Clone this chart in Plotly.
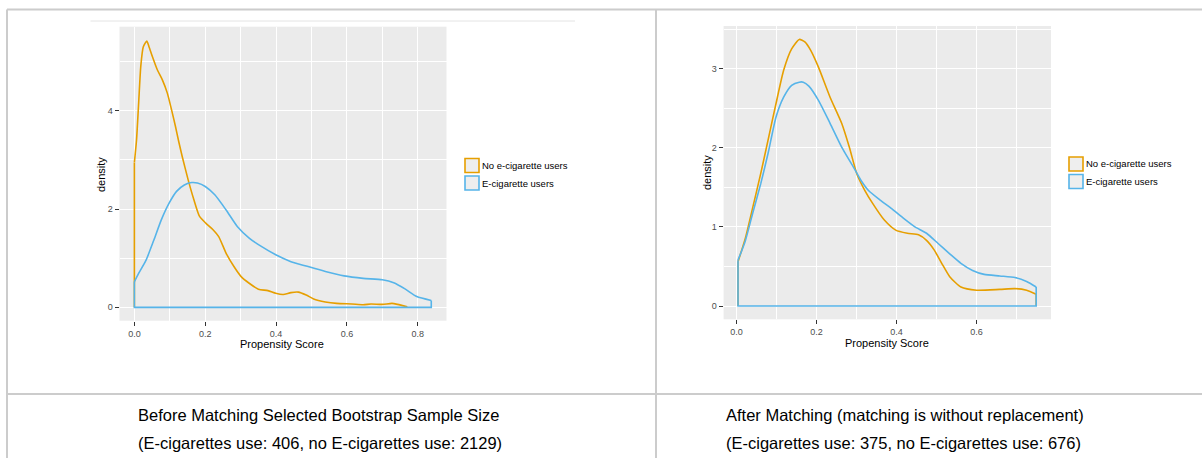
import plotly.graph_objects as go

W, H = 1202, 458

# Propensity-score density curves, before matching
before_no_x = [0.0, 0.006, 0.012, 0.018, 0.025, 0.035, 0.041, 0.051, 0.065, 0.079, 0.093,
               0.105, 0.116, 0.125, 0.135, 0.152, 0.168, 0.184, 0.202, 0.222, 0.238, 0.259,
               0.281, 0.302, 0.324, 0.35, 0.377, 0.399, 0.42, 0.442, 0.463, 0.485, 0.506,
               0.539, 0.571, 0.614, 0.646, 0.668, 0.70, 0.727, 0.743, 0.77]
before_no_y = [2.95, 3.4, 4.15, 4.9, 5.3, 5.42, 5.31, 5.10, 4.83, 4.63, 4.36,
               4.02, 3.68, 3.38, 3.07, 2.59, 2.19, 1.85, 1.71, 1.58, 1.44, 1.10,
               0.83, 0.62, 0.49, 0.37, 0.34, 0.285, 0.26, 0.30, 0.31, 0.25, 0.17,
               0.11, 0.08, 0.068, 0.054, 0.068, 0.06, 0.08, 0.06, 0.01]
before_e_x = [0.0, 0.012, 0.033, 0.055, 0.076, 0.098, 0.119, 0.141, 0.162, 0.178, 0.2,
              0.227, 0.259, 0.291, 0.324, 0.356, 0.399, 0.442, 0.485, 0.539, 0.592,
              0.646, 0.70, 0.732, 0.765, 0.797, 0.838]
before_e_y = [0.52, 0.69, 0.96, 1.37, 1.78, 2.12, 2.36, 2.49, 2.54, 2.53, 2.46,
              2.29, 1.98, 1.64, 1.41, 1.25, 1.07, 0.93, 0.84, 0.73, 0.64,
              0.59, 0.56, 0.50, 0.37, 0.22, 0.14]

# Propensity-score density curves, after matching
after_no_x = [0.004, 0.022, 0.041, 0.061, 0.08, 0.099, 0.118, 0.138, 0.157, 0.171, 0.186,
              0.205, 0.234, 0.263, 0.282, 0.301, 0.321, 0.34, 0.369, 0.398, 0.427, 0.455,
              0.475, 0.494, 0.513, 0.533, 0.561, 0.60, 0.658, 0.696, 0.725, 0.749]
after_no_y = [0.56, 0.85, 1.25, 1.68, 2.12, 2.56, 2.98, 3.25, 3.37, 3.34, 3.23,
              3.02, 2.64, 2.31, 2.01, 1.67, 1.46, 1.30, 1.09, 0.96, 0.92, 0.90,
              0.83, 0.71, 0.54, 0.37, 0.24, 0.20, 0.21, 0.22, 0.20, 0.15]
after_e_x = [0.004, 0.022, 0.041, 0.061, 0.08, 0.099, 0.118, 0.138, 0.157, 0.167, 0.181,
             0.205, 0.234, 0.263, 0.292, 0.311, 0.33, 0.359, 0.388, 0.417, 0.446, 0.475,
             0.504, 0.533, 0.561, 0.59, 0.619, 0.658, 0.696, 0.725, 0.749]
after_e_y = [0.58, 0.82, 1.18, 1.55, 1.95, 2.39, 2.64, 2.79, 2.83, 2.83, 2.78,
             2.60, 2.31, 2.01, 1.76, 1.59, 1.46, 1.34, 1.23, 1.11, 1.00, 0.92,
             0.79, 0.66, 0.54, 0.45, 0.40, 0.38, 0.36, 0.31, 0.24]

group_names = ["No e-cigarette users", "E-cigarette users"]
group_colors = ["#E69F00", "#56B4E9"]

captions_left = ["Before Matching Selected Bootstrap Sample Size",
                 "(E-cigarettes use: 406, no E-cigarettes use: 2129)"]
captions_right = ["After Matching (matching is without replacement)",
                  "(E-cigarettes use: 375, no E-cigarettes use: 676)"]

FONT = "Liberation Sans, Arial, sans-serif"
PANEL_BG = "#EBEBEB"


def px(x):
    return x / W


def py(y):
    return 1 - y / H


fig = go.Figure()


def add_density(x, y, color, xa, ya, baseline=True):
    # smooth upper curve
    fig.add_trace(go.Scatter(x=x, y=y, mode="lines", xaxis=xa, yaxis=ya,
                             line=dict(color=color, width=1.6, shape="spline", smoothing=0.6),
                             showlegend=False, hoverinfo="skip"))
    # closing edges of the density polygon down to the baseline
    if baseline:
        cx = [x[-1], x[-1], x[0], x[0]]
        cy = [y[-1], 0, 0, y[0]]
    else:
        # baseline hidden under the other group's outline
        cx = [x[-1], x[-1], None, x[0], x[0]]
        cy = [y[-1], 0, None, 0, y[0]]
    fig.add_trace(go.Scatter(x=cx, y=cy, mode="lines", xaxis=xa, yaxis=ya,
                             line=dict(color=color, width=1.6), connectgaps=False,
                             showlegend=False, hoverinfo="skip"))


add_density(before_no_x, before_no_y, group_colors[0], "x", "y", baseline=False)
add_density(before_e_x, before_e_y, group_colors[1], "x", "y")
add_density(after_no_x, after_no_y, group_colors[0], "x2", "y2", baseline=False)
add_density(after_e_x, after_e_y, group_colors[1], "x2", "y2")

tick_font = dict(family=FONT, size=9, color="#4D4D4D")


def xaxis_cfg(domain, rng, major, minor):
    return dict(domain=domain, range=rng, tickvals=major,
                ticktext=[f"{v:.1f}" for v in major],
                ticks="outside", ticklen=4, tickwidth=1, tickcolor="#333333",
                tickfont=tick_font, showgrid=True, gridcolor="white", gridwidth=1.2,
                zeroline=False, showline=False,
                minor=dict(tickvals=minor, showgrid=True, gridcolor="white", gridwidth=0.6))


def yaxis_cfg(domain, rng, major, minor, anchor):
    return dict(domain=domain, range=rng, tickvals=major,
                ticktext=[f"{v:g}" for v in major], anchor=anchor,
                ticks="outside", ticklen=4, tickwidth=1, tickcolor="#333333",
                tickfont=tick_font, showgrid=True, gridcolor="white", gridwidth=1.2,
                zeroline=False, showline=False,
                minor=dict(tickvals=minor, showgrid=True, gridcolor="white", gridwidth=0.6))


fig.update_layout(
    width=W, height=H, margin=dict(l=0, r=0, t=0, b=0),
    paper_bgcolor="white", plot_bgcolor=PANEL_BG,
    font=dict(family=FONT),
    xaxis=xaxis_cfg([px(119.5), px(446.5)], [-0.042, 0.881],
                    [0, 0.2, 0.4, 0.6, 0.8], [0.1, 0.3, 0.5, 0.7]),
    yaxis=yaxis_cfg([py(320.7), py(26.7)], [-0.272, 5.712], [0, 2, 4], [1, 3, 5], "x"),
    xaxis2=xaxis_cfg([px(723.6), px(1051)], [-0.032, 0.786],
                     [0, 0.2, 0.4, 0.6], [0.1, 0.3, 0.5, 0.7]),
    yaxis2=yaxis_cfg([py(319.3), py(26)], [-0.168, 3.54], [0, 1, 2, 3],
                     [0.5, 1.5, 2.5, 3.5], "x2"),
)
fig.layout.xaxis.anchor = "y"
fig.layout.xaxis2.anchor = "y2"

shapes = []
annotations = []
border = dict(color="#CCCCCC", width=2)

# table grid around the two cells
shapes.append(dict(type="line", xref="paper", yref="paper", x0=px(7), x1=1, y0=py(9.5), y1=py(9.5), line=border))
shapes.append(dict(type="line", xref="paper", yref="paper", x0=px(7), x1=px(7), y0=py(9.5), y1=0, line=border))
shapes.append(dict(type="line", xref="paper", yref="paper", x0=px(656), x1=px(656), y0=py(9.5), y1=0, line=border))
shapes.append(dict(type="line", xref="paper", yref="paper", x0=px(7), x1=1, y0=py(394), y1=py(394), line=border))
shapes.append(dict(type="line", xref="paper", yref="paper", x0=px(90.5), x1=px(575), y0=py(21), y1=py(21),
                   line=dict(color="#E4E4E4", width=1)))

# legends (one per panel)
for kx, ky0 in [(465, 158.5), (1069, 157)]:
    for i, (name, col) in enumerate(zip(group_names, group_colors)):
        top = ky0 + i * 17.5
        shapes.append(dict(type="rect", xref="paper", yref="paper",
                           x0=px(kx), x1=px(kx + 14), y0=py(top + 14), y1=py(top),
                           fillcolor="#EEEEEE", line=dict(color=col, width=1.6)))
        annotations.append(dict(xref="paper", yref="paper", x=px(kx + 15), y=py(top + 7),
                                xanchor="left", yanchor="middle", showarrow=False, text=name,
                                font=dict(family=FONT, size=9.5, color="black")))

# axis titles
title_font = dict(family=FONT, size=11, color="black")
for x, y in [(101, 175), (707, 173)]:
    annotations.append(dict(xref="paper", yref="paper", x=px(x), y=py(y), textangle=-90,
                            xanchor="center", yanchor="middle", showarrow=False,
                            text="density", font=title_font))
for x, y in [(282, 344), (887, 343)]:
    annotations.append(dict(xref="paper", yref="paper", x=px(x), y=py(y),
                            xanchor="center", yanchor="middle", showarrow=False,
                            text="Propensity Score", font=title_font))

# captions under each cell
cap_font = dict(family=FONT, size=16.5, color="black")
for x0, lines in [(136, captions_left), (724, captions_right)]:
    for j, line in enumerate(lines):
        annotations.append(dict(xref="paper", yref="paper", x=px(x0), y=py(415 + 28 * j),
                                xanchor="left", yanchor="middle", showarrow=False,
                                text=line, font=cap_font))

fig.update_layout(shapes=shapes, annotations=annotations)
fig.write_html("out.html")
